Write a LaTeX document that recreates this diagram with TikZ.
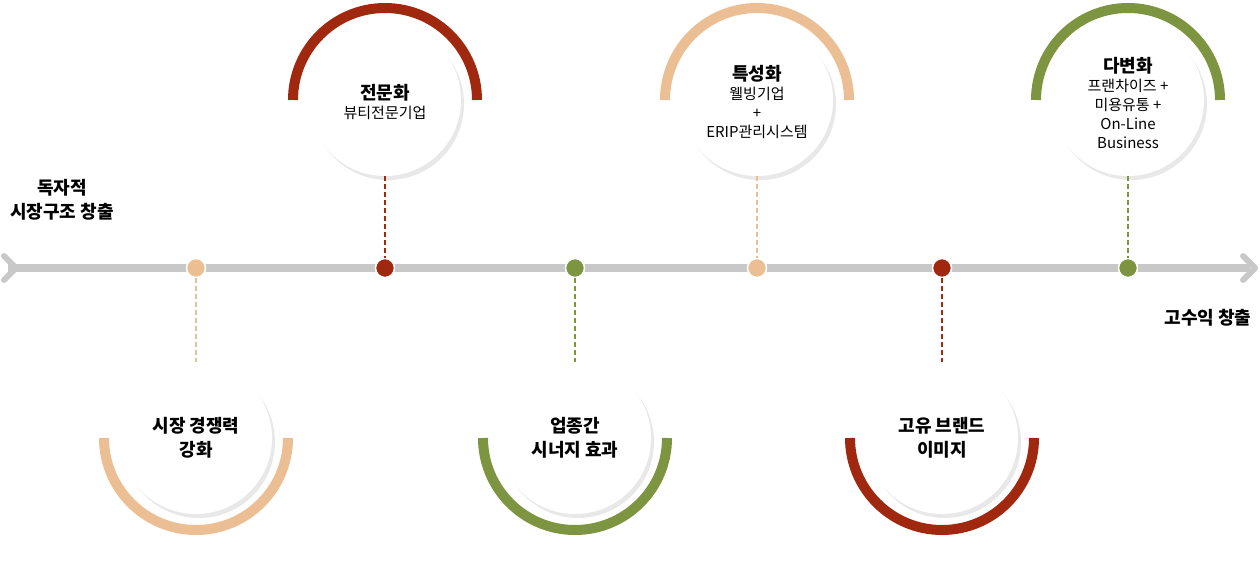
\documentclass[tikz,border=0pt]{standalone}
\usepackage{fontspec}
\setmainfont{Noto Sans CJK KR}
\usetikzlibrary{shadows}
\definecolor{redc}{HTML}{A0280F}
\definecolor{peachc}{HTML}{EBBF93}
\definecolor{greenc}{HTML}{7D9440}
\definecolor{axisc}{HTML}{C8C8C8}
\tikzset{
  disc/.style={circle, fill=white, minimum size=152pt, inner sep=0pt, align=center,
    drop shadow={shadow xshift=3pt, shadow yshift=-4pt, opacity=.15, fill=black!60}},
  dot/.style={circle, fill=#1, draw=white, line width=1.5pt, minimum size=19pt, inner sep=0pt},
  stem/.style={draw=#1, dash pattern=on 5pt off 3pt, line width=1.5pt},
  ring/.style={draw=#1, line width=10pt},
  title/.style={font=\bfseries\fontsize{18}{24}\selectfont},
  sub/.style={font=\fontsize{15}{19}\selectfont, align=center}
}
\newcommand{\hd}[1]{{\bfseries\fontsize{18}{24}\selectfont #1}}
\begin{document}
\begin{tikzpicture}[x=1pt,y=-1pt]
\useasboundingbox (0,0) rectangle (1260,564);
% axis
\draw[axisc, line width=8pt] (8,268) -- (1250,268);
\draw[axisc, line width=6pt, line cap=round, line join=round] (4,256) -- (16,268) -- (4,280);
\draw[axisc, line width=6pt, line cap=round, line join=round] (1243,256) -- (1255,268) -- (1243,280);
\node[title, align=center] (start) at (62,200) {독자적\\시장구조 창출};
\node[title] (goal) at (1208,318) {고수익 창출};
% top milestones
\foreach \nm/\x/\col in {spec/385/redc, feat/757/peachc, multi/1128/greenc}{
  \draw[ring=\col] (\x-92,100) arc[start angle=180, end angle=360, radius=92];
  \node[disc] (\nm) at (\x,100) {};
  \node[dot=\col] (\nm d) at (\x,268) {};
  \path[stem=\col] (\nm.south) -- (\nm d.north);
}
\node[sub] at ([yshift=-2pt]spec) {\hd{전문화}\\뷰티전문기업};
\node[sub] at ([yshift=-2pt]feat) {\hd{특성화}\\웰빙기업\\+\\ERIP관리시스템};
\node[sub] at ([yshift=-3pt]multi) {\hd{다변화}\\프랜차이즈 +\\미용유통 +\\On-Line\\Business};
% bottom milestones
\foreach \nm/\x/\col/\txt in {comp/196/peachc/{시장 경쟁력\\강화}, syn/575/greenc/{업종간\\시너지 효과}, brand/942/redc/{고유 브랜드\\이미지}}{
  \draw[ring=\col] (\x-92,438) arc[start angle=180, end angle=0, radius=92];
  \node[disc, title] (\nm) at (\x,438) {\txt};
  \node[dot=\col] (\nm d) at (\x,268) {};
  \path[stem=\col] (\nm d.south) -- (\nm.north);
}
\end{tikzpicture}
\end{document}
